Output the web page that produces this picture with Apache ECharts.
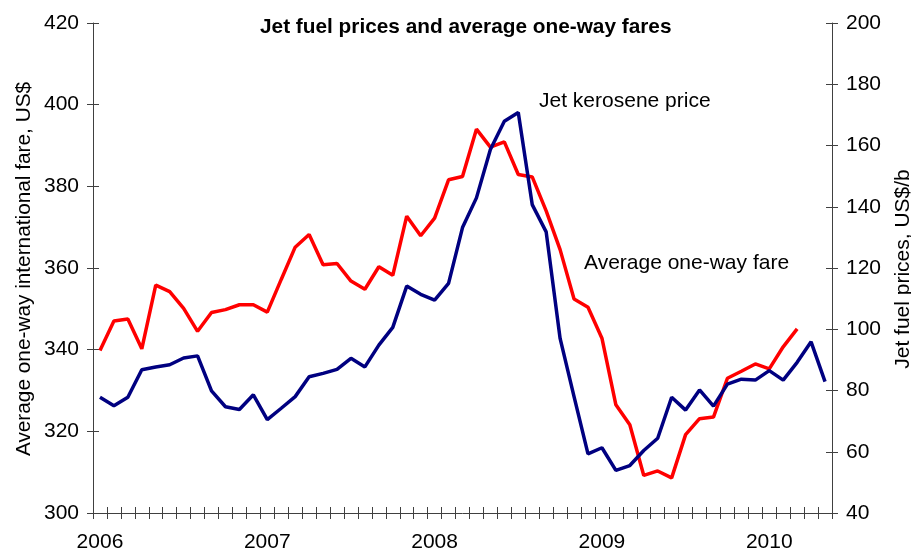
<!DOCTYPE html>
<html>
<head>
<meta charset="utf-8">
<script src="https://cdn.jsdelivr.net/npm/echarts@6/dist/echarts.min.js"></script>
<style>
html,body{margin:0;padding:0;background:#fff;}
#chart{width:911px;height:553px;}
</style>
</head>
<body>
<div id="chart"></div>
<script>
// Months Jan 2006 .. May 2010
const months = [];
for (let y = 2006; y <= 2010; y++) {
  for (let m = 1; m <= 12; m++) {
    if (y === 2010 && m > 5) break;
    months.push(y + '-' + (m < 10 ? '0' + m : m));
  }
}
// Average one-way international fare, US$ (left axis), Jan 2006 .. Mar 2010
const fare = [339.8, 347.0, 347.5, 340.2, 355.8, 354.2, 350.1, 344.5, 349.1, 349.8, 351.0, 351.0,
  349.2, 357.2, 365.1, 368.2, 360.8, 361.1, 356.8, 354.8, 360.3, 358.2, 372.7, 367.9,
  372.2, 381.6, 382.4, 394.0, 389.6, 390.9, 382.9, 382.3, 374.0, 364.5, 352.4, 350.4,
  342.8, 326.5, 321.6, 309.2, 310.3, 308.6, 319.2, 323.1, 323.5, 333.0, 334.7, 336.5,
  335.3, 340.7, 345.1];
// Jet kerosene price, US$/b (right axis), Jan 2006 .. May 2010
const jetFuel = [77.8, 75.0, 77.8, 86.8, 87.7, 88.4, 90.6, 91.3, 79.9, 74.7, 73.8, 78.6,
  70.5, 74.2, 78.0, 84.5, 85.6, 86.9, 90.5, 87.7, 94.8, 100.6, 114.1, 111.4,
  109.5, 115.0, 133.2, 142.9, 158.7, 167.9, 170.8, 140.7, 131.8, 97.0, 78.0, 59.3,
  61.3, 53.9, 55.5, 60.4, 64.4, 77.8, 73.6, 80.2, 74.9, 82.1, 83.7, 83.4,
  86.5, 83.4, 89.2, 95.9, 82.9];

const FONT = 'Liberation Sans, Arial, sans-serif';
const FS = 21;
const AX = '#404040';

const chart = echarts.init(document.getElementById('chart'), null, {renderer: 'canvas'});

function yAx(pos, min, max, inside) {
  return {
    type: 'value', position: pos, min: min, max: max, interval: 20,
    axisLine: {show: !inside, lineStyle: {color: AX, width: 1}},
    axisTick: {show: true, inside: inside, length: 6, lineStyle: {color: AX, width: 1}},
    axisLabel: {show: !inside, fontSize: FS, color: '#000', fontFamily: FONT, margin: 14},
    splitLine: {show: false}
  };
}
function xAx(inside) {
  return {
    type: 'category', data: months, boundaryGap: true, position: 'bottom',
    axisLine: {show: !inside, lineStyle: {color: AX, width: 1}},
    axisTick: {show: true, inside: inside, interval: 0, length: 6, lineStyle: {color: AX, width: 1}},
    axisLabel: {
      show: !inside, fontSize: FS, color: '#000', fontFamily: FONT, margin: 19,
      interval: function (i) { return i % 12 === 0; },
      formatter: function (v) { return v.slice(0, 4); }
    },
    splitLine: {show: false}
  };
}

chart.setOption({
  animation: false,
  backgroundColor: '#fff',
  title: {
    text: 'Jet fuel prices and average one-way fares',
    left: 255, top: 12,
    textStyle: {fontSize: 20.8, fontWeight: 'bold', color: '#000', fontFamily: FONT}
  },
  grid: {left: 93, right: 79, top: 23, bottom: 39, containLabel: false},
  xAxis: [xAx(false), xAx(true)],
  yAxis: [yAx('left', 300, 420, false), yAx('right', 40, 200, false),
          yAx('left', 300, 420, true), yAx('right', 40, 200, true)],
  series: [
    {name: 'Average one-way fare', type: 'line', data: fare, xAxisIndex: 0, yAxisIndex: 0,
     showSymbol: false, symbol: 'none', lineStyle: {color: '#ff0000', width: 3.5}, z: 2},
    {name: 'Jet kerosene price', type: 'line', data: jetFuel, xAxisIndex: 0, yAxisIndex: 1,
     showSymbol: false, symbol: 'none', lineStyle: {color: '#000080', width: 3.5}, z: 3}
  ],
  graphic: [
    {type: 'text', x: 24, y: 269, rotation: Math.PI / 2,
     style: {text: 'Average one-way international fare, US$', font: '20.8px ' + FONT, fill: '#000',
             textAlign: 'center', textVerticalAlign: 'middle'}},
    {type: 'text', x: 903, y: 269, rotation: Math.PI / 2,
     style: {text: 'Jet fuel prices, US$/b', font: FS + 'px ' + FONT, fill: '#000',
             textAlign: 'center', textVerticalAlign: 'middle'}},
    {type: 'text', x: 539, y: 101,
     style: {text: 'Jet kerosene price', font: FS + 'px ' + FONT, fill: '#000',
             textAlign: 'left', textVerticalAlign: 'middle'}},
    {type: 'text', x: 584, y: 263,
     style: {text: 'Average one-way fare', font: FS + 'px ' + FONT, fill: '#000',
             textAlign: 'left', textVerticalAlign: 'middle'}}
  ]
});
</script>
</body>
</html>
